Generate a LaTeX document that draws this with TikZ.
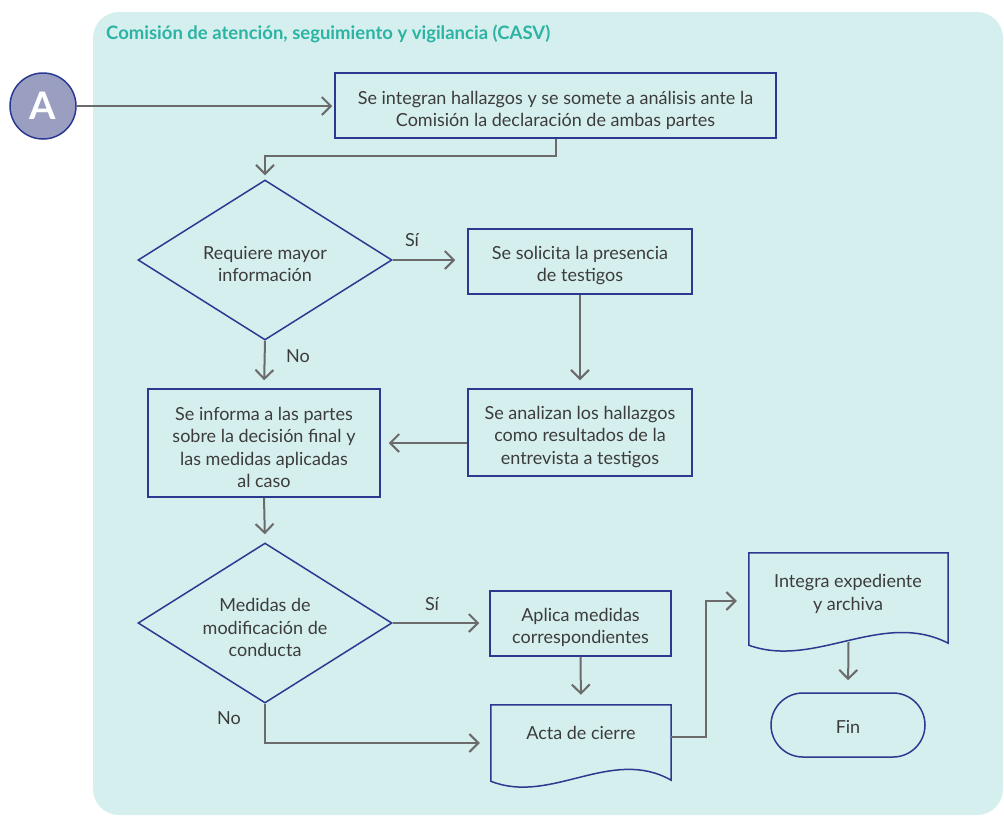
\documentclass[tikz,border=0pt]{standalone}
\usepackage{fontspec}
\setmainfont{Lato}
\usetikzlibrary{arrows.meta,shapes.geometric,shapes.misc,calc}
\definecolor{panel}{HTML}{D5EFEE}
\definecolor{titlec}{HTML}{2BB3A3}
\definecolor{bord}{RGB}{43,57,144}
\definecolor{circf}{HTML}{9A9FC2}
\definecolor{arrc}{HTML}{6B6B6B}
\definecolor{txt}{HTML}{3C3C3C}
\tikzset{
  fnt/.style={font=\fontsize{18}{22.5}\selectfont},
  boxst/.style={draw=bord,line width=1.5pt,rectangle,inner sep=0pt},
  decst/.style={draw=bord,line width=1.5pt,diamond,inner sep=0pt},
  plain/.style={inner sep=0pt,align=center,text=txt,fnt},
  arr/.style={draw=arrc,line width=2pt,-{Straight Barb[length=9pt,width=18pt,line width=2pt]}},
  wave/.style={draw=bord,line width=1.5pt,fill=panel},
}
\begin{document}
\begin{tikzpicture}[x=1pt,y=-1pt]
\useasboundingbox (0,0) rectangle (1004,815);
% panel
\fill[panel,rounded corners=26pt] (93,12) rectangle (1003,815);
\node[anchor=west,text=titlec,font=\bfseries\fontsize{18.5}{20}\selectfont,inner sep=0pt] (title) at (106,34) {Comisión de atención, seguimiento y vigilancia (CASV)};
% circle A
\node[circle,draw=bord,line width=1.5pt,fill=circf,minimum size=66pt,inner sep=0pt,text=white,font=\bfseries\fontsize{38}{38}\selectfont] (A) at (43,106) {A};
% shapes
\node[boxst,minimum width=441pt,minimum height=65pt] (b1) at (555.5,105.5) {};
\node[decst,minimum width=254pt,minimum height=160pt] (d1) at (265,260) {};
\node[boxst,minimum width=224pt,minimum height=65pt] (b2) at (580,261.5) {};
\node[boxst,minimum width=224pt,minimum height=87pt] (b3) at (580,432.5) {};
\node[boxst,minimum width=232pt,minimum height=108pt] (b4) at (264,443) {};
\node[decst,minimum width=254pt,minimum height=160pt] (d2) at (265,623) {};
\node[boxst,minimum width=181pt,minimum height=65pt] (b5) at (580.5,623.5) {};
\node[inner sep=0pt,minimum width=180pt,minimum height=76pt] (acta) at (581,743) {};
\draw[wave] (acta.north west) -- (acta.north east) -- ($(acta.south east)+(0,-1)$)
  .. controls ($(acta.south east)+(-60,-35)$) and ($(acta.south west)+(60,24)$) .. (acta.south west) -- cycle;
\node[inner sep=0pt,minimum width=199pt,minimum height=92pt] (integ) at (848.5,599) {};
\draw[wave] (integ.north west) -- (integ.north east) -- ($(integ.south east)+(0,-2)$)
  .. controls ($(integ.south east)+(-66,-36)$) and ($(integ.south west)+(66,24)$) .. (integ.south west) -- cycle;
\node[rounded rectangle,draw=bord,line width=1.5pt,minimum width=154pt,minimum height=64pt,inner sep=0pt] (fin) at (848,725) {};
% texts
\node[plain] (b1T) at ($(b1.center)+(0,5)$) {Se integran hallazgos y se somete a análisis ante la\\Comisión la declaración de ambas partes};
\node[plain] (d1T) at ($(d1.center)+(0,4)$) {Requiere mayor\\información};
\node[plain] (b2T) at ($(b2.center)+(0,4)$) {Se solicita la presencia\\de testigos};
\node[plain] (b3T) at ($(b3.center)+(0,4.5)$) {Se analizan los hallazgos\\como resultados de la\\entrevista a testigos};
\node[plain] (b4T) at ($(b4.center)+(0,4.5)$) {Se informa a las partes\\sobre la decisión final y\\las medidas aplicadas\\al caso};
\node[plain] (d2T) at ($(d2.center)+(0,4.5)$) {Medidas de\\modificación de\\conducta};
\node[plain] (b5T) at ($(b5.center)+(0,4)$) {Aplica medidas\\correspondientes};
\node[plain] (actaT) at (581,733) {Acta de cierre};
\node[plain] (integT) at (848,594) {Integra expediente\\y archiva};
\node[plain] (finT) at ($(fin.center)+(0,1.5)$) {Fin};
% labels
\node[plain] (si1) at (412,240) {Sí};
\node[plain] (no1) at (298,356) {No};
\node[plain] (si2) at (432,604) {Sí};
\node[plain] (no2) at (229,718) {No};
% connectors
\draw[arr,shorten >=2pt] (A.east) -- (A.east -| b1.west);
\draw[arr,shorten >=4pt] (b1.south) -- ++(0,17) -| (d1.north);
\draw[arr,shorten >=12pt] (d1.east) -- (d1.east -| b2.west);
\draw[arr,shorten >=8pt] (b2.south) -- (b3.north);
\draw[arr,shorten >=8pt] (b4.east -| b3.west) -- (b4.east);
\draw[arr,shorten >=8pt] (d1.south) -- (b4.north);
\draw[arr,shorten >=8pt] (b4.south) -- (d2.north);
\draw[arr,shorten >=10pt] (d2.east) -- (d2.east -| b5.west);
\draw[arr,shorten >=10pt] (b5.south) -- (acta.north);
\draw[arr,shorten >=11pt] (d2.south) |- (acta.west);
\coordinate (ae) at ($(acta.east)+(0,-6)$);
\coordinate (iw) at ($(integ.west)+(0,2)$);
\draw[arr,shorten >=12pt] (ae) -- ++(35,0) |- (iw);
\draw[arr,shorten >=12pt] ($(integ.south)+(0,-3)$) -- (fin.north);
\end{tikzpicture}
\end{document}
